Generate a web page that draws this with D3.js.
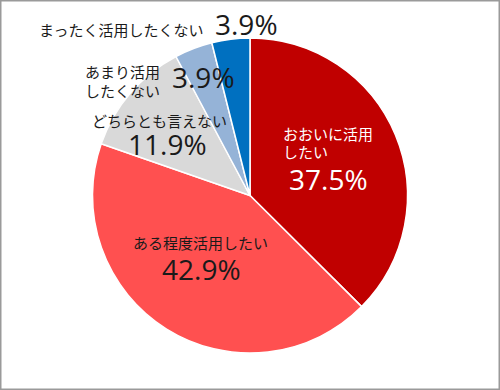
<!DOCTYPE html>
<html><head><meta charset="utf-8">
<script src="https://cdn.jsdelivr.net/npm/d3@7"></script>
<style>
html,body{margin:0;padding:0;background:#fff;}
svg{display:block;}
</style></head>
<body>
<svg id="chart" width="500" height="390"></svg>
<script>
const categories = ["おおいに活用したい", "ある程度活用したい", "どちらとも言えない", "あまり活用したくない", "まったく活用したくない"];
const values = [37.5, 42.9, 11.9, 3.9, 3.9];
const valueLabels = ["37.5%", "42.9%", "11.9%", "3.9%", "3.9%"];
const labelLines = [["おおいに活用", "したい"], ["ある程度活用したい"], ["どちらとも言えない"], ["あまり活用", "したくない"], ["まったく活用したくない"]];
const colors = ["#C00000", "#FF5050", "#D9D9D9", "#95B3D7", "#0070C0"];
const textColors = ["#ffffff", "#1a1a1a", "#1a1a1a", "#1a1a1a", "#1a1a1a"];

// label layout (offsets relative to chart center)
const layout = [
  {nx: 33, ny: -56, lh: 18, px: 39, py: -5.5},
  {nx: -117, ny: 53, lh: 18, px: -88, py: 84.5},
  {nx: -158, ny: -69, lh: 18, px: -122, py: -40.5},
  {nx: -165, ny: -118, lh: 19, px: -78, py: -107.5},
  {nx: -211, ny: -160, lh: 18, px: -35, py: -160.5}
];

const W = 500, H = 390, cx = 250, cy = 195.5, R = 157.5;
const svg = d3.select("#chart");
svg.append("rect").attr("x", 0.75).attr("y", 0.75).attr("width", W - 1.5).attr("height", H - 1.5)
  .attr("fill", "#fff").attr("stroke", "#9a9a9a").attr("stroke-width", 1.5);

const g = svg.append("g").attr("transform", `translate(${cx},${cy})`);
const pie = d3.pie().sort(null).value(d => d)(values);
const arc = d3.arc().innerRadius(0).outerRadius(R);
g.selectAll("path.slice").data(pie).join("path")
  .attr("class", "slice")
  .attr("d", arc)
  .attr("fill", (d, i) => colors[i])
  .attr("stroke", "#fff").attr("stroke-width", 1.5).attr("stroke-linejoin", "round");

const font = "'Noto Sans CJK JP', 'Noto Sans', sans-serif";
const numFont = "'Open Sans', 'Noto Sans', sans-serif";
const lab = g.selectAll("g.lab").data(pie).join("g").attr("class", "lab");
lab.each(function(d, i) {
  const L = layout[i];
  const sel = d3.select(this);
  const t = sel.append("text").attr("font-family", font).attr("font-size", 15)
    .attr("fill", textColors[i]);
  labelLines[i].forEach((s, k) => {
    t.append("tspan").attr("x", L.nx).attr("y", L.ny + k * L.lh).text(s);
  });
  sel.append("text").attr("x", L.px).attr("y", L.py)
    .attr("font-family", numFont).attr("font-size", 28)
    .attr("fill", textColors[i]).text(valueLabels[i]);
});
</script>
</body></html>
